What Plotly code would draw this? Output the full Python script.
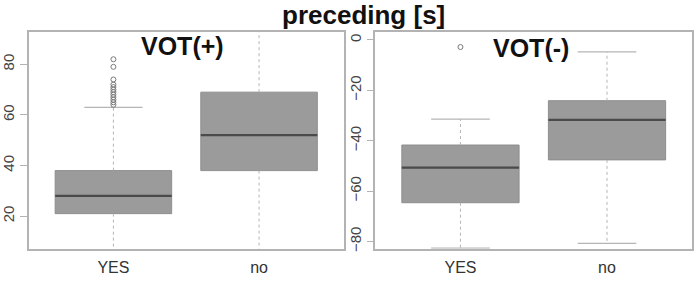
import plotly.graph_objects as go

categories = ["YES", "no"]
cat_pos = [1, 2]

# VOT(+) panel
pos_q1 = [21, 38]
pos_median = [28, 52]
pos_q3 = [38, 69]
pos_lower = [4, 4]
pos_upper = [63, 97]
pos_outliers_yes = [64, 65, 66, 67, 68, 69, 70, 71, 72, 74, 79, 82]

# VOT(-) panel
neg_q1 = [-64.6, -47.6]
neg_median = [-50.7, -31.7]
neg_q3 = [-41.7, -24.1]
neg_lower = [-82.6, -80.7]
neg_upper = [-31.4, -4.7]
neg_outliers_yes = [-2.8]

main_title = "preceding [s]"
panel_titles = ["VOT(+)", "VOT(-)"]

BOXW = 0.8
CAPW = 0.4
FILL = "#9b9b9b"
EDGE = "#8e8e8e"
MED = "#4a4a4a"
WHISK = "#b5b5b5"
FRAME = "#b3b3b3"
FONT = "Liberation Sans, Arial, sans-serif"

fig = go.Figure()


def add_panel(xa, ya, q1, med, q3, lo, hi, outl):
    for i, c in enumerate(cat_pos):
        fig.add_trace(go.Box(
            x=[c], q1=[q1[i]], median=[med[i]], q3=[q3[i]],
            lowerfence=[q1[i]], upperfence=[q3[i]],
            width=BOXW, fillcolor=FILL, whiskerwidth=0,
            line=dict(color=EDGE, width=1), boxpoints=False,
            xaxis=xa, yaxis=ya, showlegend=False, hoverinfo="skip"))
        # dashed whiskers
        fig.add_trace(go.Scatter(
            x=[c, c, None, c, c], y=[q3[i], hi[i], None, q1[i], lo[i]],
            mode="lines", line=dict(color=WHISK, width=1, dash="dot"),
            xaxis=xa, yaxis=ya, showlegend=False, hoverinfo="skip"))
        # caps
        fig.add_trace(go.Scatter(
            x=[c - CAPW / 2, c + CAPW / 2, None, c - CAPW / 2, c + CAPW / 2],
            y=[hi[i], hi[i], None, lo[i], lo[i]],
            mode="lines", line=dict(color=WHISK, width=1.2),
            xaxis=xa, yaxis=ya, showlegend=False, hoverinfo="skip"))
        # median
        fig.add_trace(go.Scatter(
            x=[c - BOXW / 2, c + BOXW / 2], y=[med[i], med[i]],
            mode="lines", line=dict(color=MED, width=2.2),
            xaxis=xa, yaxis=ya, showlegend=False, hoverinfo="skip"))
    fig.add_trace(go.Scatter(
        x=[cat_pos[0]] * len(outl), y=outl, mode="markers",
        marker=dict(symbol="circle-open", size=5, color="#7a7a7a", line=dict(width=1)),
        xaxis=xa, yaxis=ya, showlegend=False, hoverinfo="skip", cliponaxis=True))


add_panel("x", "y", pos_q1, pos_median, pos_q3, pos_lower, pos_upper, pos_outliers_yes)
add_panel("x2", "y2", neg_q1, neg_median, neg_q3, neg_lower, neg_upper, neg_outliers_yes)

xcommon = dict(range=[0.42, 2.58], tickvals=cat_pos, ticktext=categories,
               showgrid=False, zeroline=False, showline=True, mirror=True,
               linecolor=FRAME, linewidth=1.5, ticks="", ticklabelstandoff=3,
               tickfont=dict(family=FONT, size=16, color="#333"))
ycommon = dict(showgrid=False, zeroline=False, showline=True, mirror=True,
               linecolor=FRAME, linewidth=1.5, ticks="outside", ticklen=7,
               tickcolor=FRAME, tickwidth=1, tickangle=-90,
               tickfont=dict(family=FONT, size=15, color="#444"))

fig.update_layout(
    width=697, height=282, margin=dict(l=0, r=0, t=0, b=0),
    paper_bgcolor="white", plot_bgcolor="white",
    xaxis=dict(domain=[28 / 697, 343 / 697], **xcommon),
    xaxis2=dict(domain=[375 / 697, 692 / 697], anchor="y2", **xcommon),
    yaxis=dict(domain=[(282 - 251.5) / 282, (282 - 32) / 282], range=[7.1, 92.9],
               tickvals=[20, 40, 60, 80], **ycommon),
    yaxis2=dict(domain=[(282 - 251.5) / 282, (282 - 32) / 282], range=[-82.9, 3.3],
                tickvals=[0, -20, -40, -60, -80], anchor="x2", **ycommon),
    annotations=[
        dict(text="<b>" + main_title + "</b>", x=363 / 697, y=(282 - 15) / 282,
             xref="paper", yref="paper", showarrow=False, xanchor="center", yanchor="middle",
             font=dict(family=FONT, size=26, color="#111")),
        dict(text="<b>" + panel_titles[0] + "</b>", x=182 / 697, y=(282 - 47) / 282,
             xref="paper", yref="paper", showarrow=False, xanchor="center", yanchor="middle",
             font=dict(family=FONT, size=25, color="#111")),
        dict(text="<b>" + panel_titles[1] + "</b>", x=531 / 697, y=(282 - 49) / 282,
             xref="paper", yref="paper", showarrow=False, xanchor="center", yanchor="middle",
             font=dict(family=FONT, size=25, color="#111")),
    ],
)

fig.write_html("out.html")
